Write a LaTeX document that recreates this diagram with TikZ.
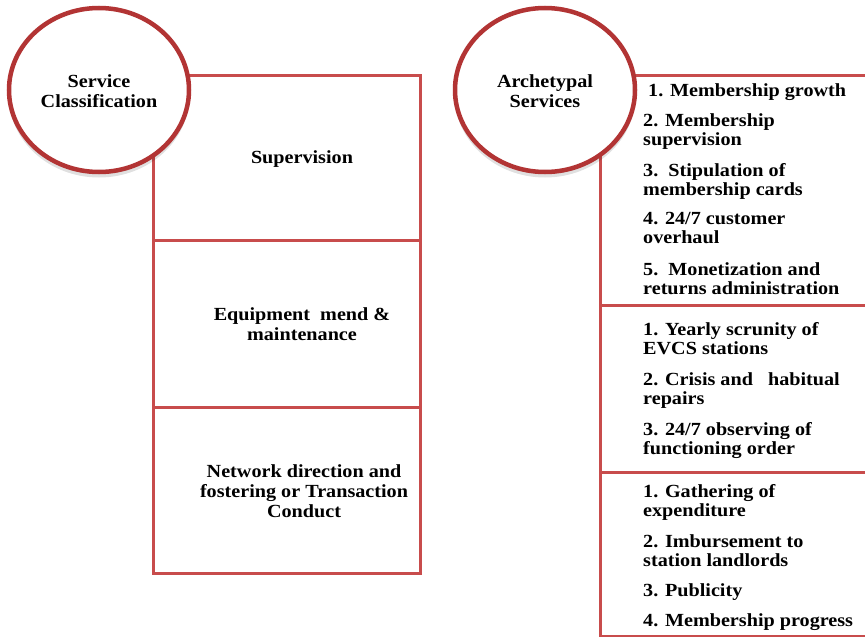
\documentclass[tikz,border=0pt]{standalone}
\usepackage{fontspec}
\setmainfont{Liberation Serif}[FakeStretch=1.09]
\definecolor{boxred}{RGB}{200,76,76}
\definecolor{ringred}{RGB}{178,52,52}
\tikzset{
  x=1pt, y=-1pt,
  frame/.style={draw=boxred, line width=3pt},
  ring/.style={draw=ringred, line width=4.5pt, fill=white},
  halo/.style={fill=black, opacity=0.12},
  lbl/.style={font=\bfseries\fontsize{18.5}{20}\selectfont, align=center, inner sep=0pt},
  item/.style={font=\bfseries\fontsize{18.5}{19.5}\selectfont, align=left, anchor=north west, inner sep=0pt},
}
\begin{document}
\begin{tikzpicture}
\useasboundingbox (0,0) rectangle (865,637);
\fill[white] (0,0) rectangle (865,637);
\begin{scope}
\clip (0,0) rectangle (865,637);

% left column of service categories
\draw[frame] (153,75) rectangle (420,573);
\draw[frame] (153,240) -- (420,240);
\draw[frame] (153,407) -- (420,407);

% right column of typical services
\draw[frame] (600,75) rectangle (875,636);
\draw[frame] (600,305) -- (875,305);
\draw[frame] (600,472) -- (875,472);

% heading circles with a soft shadow underneath
\fill[halo] (99,95) ellipse [x radius=90.5, y radius=82.5];
\draw[ring] (99,90) ellipse [x radius=90, y radius=82];
\fill[halo] (545,95) ellipse [x radius=90.5, y radius=82.5];
\draw[ring] (545,90) ellipse [x radius=90, y radius=82];
\end{scope}

\node[lbl] (svc) at (99,91) {Service\\Classification};
\node[lbl] (arch) at (545,91) {Archetypal\\Services};

% labels of the left column
\node[lbl] (sup) at (302,159) {Supervision};
\node[lbl] (equ) at (302,324) {Equipment\ \ mend \&\\maintenance};
\node[lbl] (net) at (304,491) {Network direction and\\fostering or Transaction\\Conduct};

% first group
\node[item] (a1) at (648,83) {1. Membership growth};
\node[item] (a2) at (643,113) {2. Membership\\supervision};
\node[item] (a3) at (643,163) {3.\ \ Stipulation of\\membership cards};
\node[item] (a4) at (643,212) {4. 24/7 customer\\overhaul};
\node[item] (a5) at (643,262) {5.\ \ Monetization and\\returns administration};

% second group
\node[item] (b1) at (643,322) {1. Yearly scrunity of\\EVCS stations};
\node[item] (b2) at (643,372) {2. Crisis and\ \ \ habitual\\repairs};
\node[item] (b3) at (643,422) {3. 24/7 observing of\\functioning order};

% third group
\node[item] (c1) at (643,484) {1. Gathering of\\expenditure};
\node[item] (c2) at (643,534) {2. Imbursement to\\station landlords};
\node[item] (c3) at (643,583) {3. Publicity};
\node[item] (c4) at (643,613) {4. Membership progress};
\end{tikzpicture}
\end{document}
